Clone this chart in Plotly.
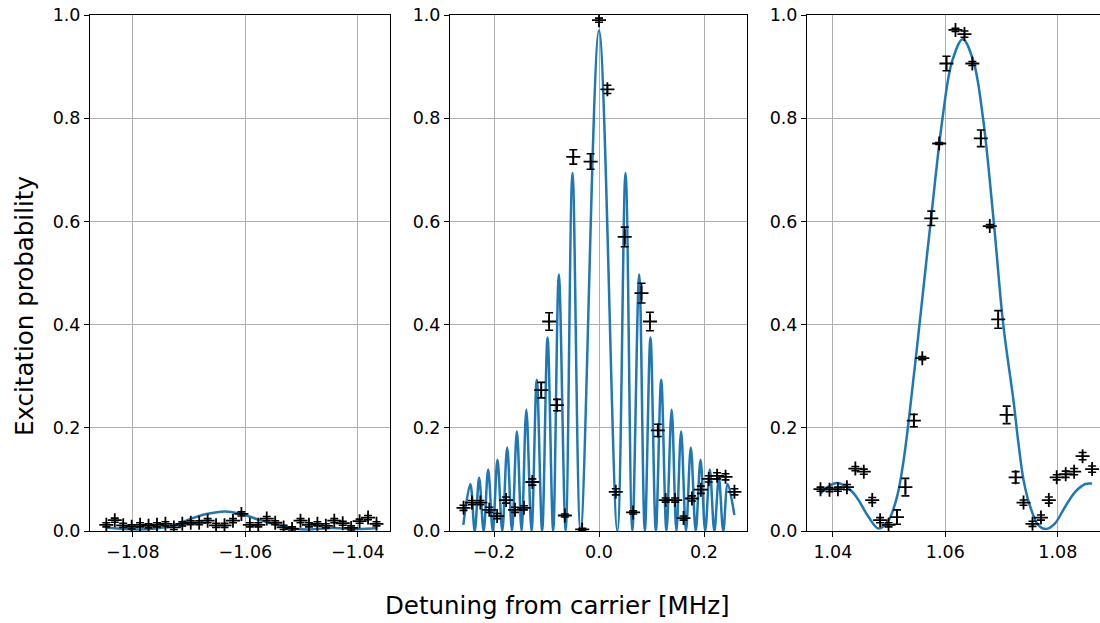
import plotly.graph_objects as go

# ---------------- measured excitation probabilities ----------------
# Red sideband
p1_x = [-1.0847, -1.0832, -1.0817, -1.0802, -1.0787, -1.0772, -1.0757, -1.0742,
        -1.0727, -1.0712, -1.0697, -1.0682, -1.0667, -1.0652, -1.0637, -1.0622,
        -1.0607, -1.0592, -1.0577, -1.0562, -1.0547, -1.0532, -1.0517, -1.0502,
        -1.0487, -1.0472, -1.0457, -1.0442, -1.0427, -1.0412, -1.0397, -1.0382,
        -1.0367]
p1_y = [0.012, 0.021, 0.011, 0.008, 0.012, 0.010, 0.012, 0.014, 0.007, 0.014,
        0.016, 0.016, 0.020, 0.011, 0.011, 0.020, 0.033, 0.012, 0.012, 0.024,
        0.016, 0.007, 0.004, 0.020, 0.012, 0.014, 0.010, 0.020, 0.015, 0.006,
        0.019, 0.026, 0.014]
p1_err = [0.004] * len(p1_x)

# Carrier
p2_x = [-0.258, -0.242, -0.226, -0.209, -0.194, -0.177, -0.160, -0.143, -0.127,
        -0.110, -0.095, -0.080, -0.065, -0.049, -0.032, -0.016, 0.0, 0.016,
        0.032, 0.049, 0.065, 0.081, 0.097, 0.112, 0.127, 0.145, 0.161, 0.177,
        0.194, 0.209, 0.225, 0.241, 0.258]
p2_y = [0.045, 0.055, 0.055, 0.041, 0.029, 0.060, 0.041, 0.045, 0.095, 0.273,
        0.406, 0.244, 0.030, 0.725, 0.003, 0.716, 0.990, 0.856, 0.076, 0.570,
        0.036, 0.461, 0.406, 0.195, 0.060, 0.060, 0.025, 0.063, 0.080, 0.101,
        0.107, 0.105, 0.076]
p2_err = [0.005, 0.004, 0.004, 0.005, 0.005, 0.006, 0.005, 0.004, 0.006, 0.015,
          0.017, 0.011, 0.003, 0.014, 0.002, 0.015, 0.004, 0.008, 0.006, 0.019,
          0.003, 0.019, 0.018, 0.012, 0.004, 0.004, 0.004, 0.005, 0.007, 0.006,
          0.006, 0.006, 0.006]

# Blue sideband
p3_x = [1.0378, 1.0394, 1.0409, 1.0425, 1.0440, 1.0455, 1.0470, 1.0484, 1.0499,
        1.0514, 1.0529, 1.0544, 1.0559, 1.0575, 1.0589, 1.0602, 1.0618, 1.0634,
        1.0648, 1.0663, 1.0679, 1.0694, 1.0709, 1.0725, 1.0739, 1.0755, 1.0770,
        1.0784, 1.0798, 1.0814, 1.0829, 1.0844, 1.0861]
p3_y = [0.081, 0.080, 0.081, 0.085, 0.121, 0.115, 0.060, 0.021, 0.012, 0.027,
        0.085, 0.214, 0.335, 0.606, 0.751, 0.906, 0.971, 0.963, 0.906, 0.761,
        0.591, 0.410, 0.225, 0.104, 0.055, 0.014, 0.026, 0.060, 0.104, 0.110,
        0.115, 0.145, 0.120]
p3_err = [0.004, 0.004, 0.004, 0.005, 0.004, 0.005, 0.005, 0.005, 0.004, 0.014,
          0.017, 0.012, 0.003, 0.014, 0.002, 0.014, 0.003, 0.006, 0.004, 0.016,
          0.003, 0.017, 0.017, 0.011, 0.005, 0.005, 0.005, 0.006, 0.005, 0.006,
          0.006, 0.007, 0.006]

# ---------------- fitted line shapes (vertices) ----------------
fit1_x = [-1.0848, -1.0815, -1.0790, -1.0760, -1.0728, -1.0699, -1.0669, -1.0636,
          -1.0604, -1.0574, -1.0545, -1.0515, -1.0490, -1.0445, -1.0400, -1.0365]
fit1_y = [0.007, 0.004, 0.003, 0.005, 0.010, 0.023, 0.033, 0.038,
          0.032, 0.021, 0.012, 0.005, 0.003, 0.006, 0.004, 0.006]

fit2_x = [-0.2584, -0.2451, -0.2367, -0.2283, -0.2197, -0.2111, -0.2023, -0.1934,
          -0.1842, -0.1749, -0.1657, -0.1564, -0.1474, -0.1384, -0.1285, -0.1185,
          -0.1083, -0.0980, -0.0873, -0.0765, -0.0635, -0.0505, -0.0350, 0.0,
          0.0350, 0.0505, 0.0635, 0.0765, 0.0873, 0.0980, 0.1083, 0.1185,
          0.1285, 0.1384, 0.1474, 0.1564, 0.1657, 0.1749, 0.1842, 0.1934,
          0.2023, 0.2111, 0.2197, 0.2283, 0.2367, 0.2451, 0.2578]
fit2_y = [0.012, 0.091, 0.0, 0.103, 0.0, 0.119, 0.0, 0.138,
          0.0, 0.162, 0.0, 0.193, 0.0, 0.235, 0.0, 0.293,
          0.0, 0.375, 0.0, 0.497, 0.0, 0.694, 0.0, 0.970,
          0.0, 0.694, 0.0, 0.497, 0.0, 0.375, 0.0, 0.293,
          0.0, 0.235, 0.0, 0.193, 0.0, 0.162, 0.0, 0.138,
          0.0, 0.119, 0.0, 0.103, 0.0, 0.091, 0.031]

fit3_x = [1.0377, 1.0392, 1.0407, 1.0425, 1.0442, 1.0463, 1.0481, 1.0499, 1.0514,
          1.0525, 1.0535, 1.0554, 1.0574, 1.0595, 1.0612, 1.0631, 1.0650, 1.0667,
          1.0686, 1.0703, 1.0721, 1.0730, 1.0739, 1.0751, 1.0765, 1.0779, 1.0795,
          1.0813, 1.0831, 1.0849, 1.0861]
fit3_y = [0.072, 0.086, 0.093, 0.085, 0.066, 0.028, 0.005, 0.021, 0.066,
          0.131, 0.215, 0.400, 0.600, 0.800, 0.910, 0.953, 0.910, 0.800,
          0.600, 0.400, 0.254, 0.170, 0.099, 0.047, 0.012, 0.004, 0.015,
          0.047, 0.076, 0.091, 0.092]

# ---------------- axis ticks ----------------
x1_ticks = [-1.08, -1.06, -1.04]
x1_labels = ["\u22121.08", "\u22121.06", "\u22121.04"]
x2_ticks = [-0.2, 0.0, 0.2]
x2_labels = ["\u22120.2", "0.0", "0.2"]
x3_ticks = [1.04, 1.06, 1.08]
x3_labels = ["1.04", "1.06", "1.08"]
y_ticks = [0.0, 0.2, 0.4, 0.6, 0.8, 1.0]
y_labels = ["0.0", "0.2", "0.4", "0.6", "0.8", "1.0"]

W, H = 1100, 623
BLUE = "#1f77b4"
FONT = "DejaVu Sans"

panels = [
    (p1_x, p1_y, p1_err, fit1_x, fit1_y, x1_ticks, x1_labels, [90, 390], [-1.0876, -1.0343]),
    (p2_x, p2_y, p2_err, fit2_x, fit2_y, x2_ticks, x2_labels, [450, 747], [-0.2838, 0.2819]),
    (p3_x, p3_y, p3_err, fit3_x, fit3_y, x3_ticks, x3_labels, [807, 1100], [1.0354, 1.0875]),
]

y_dom = [(H - 531) / H, (H - 15) / H]

fig = go.Figure()
layout = dict(
    width=W, height=H,
    margin=dict(l=0, r=0, t=0, b=0),
    paper_bgcolor="white", plot_bgcolor="white",
    showlegend=False,
    font=dict(family=FONT, color="black"),
)

axis_common = dict(
    showgrid=True, gridcolor="#b0b0b0", gridwidth=1,
    showline=True, linecolor="black", linewidth=1, mirror=True,
    ticks="outside", ticklen=5, tickwidth=1, tickcolor="black",
    tickfont=dict(family=FONT, size=17.5, color="black"),
    zeroline=False, automargin=False,
)

for i, (dx, dy, de, fx, fy, xt, xl, px, xr) in enumerate(panels, start=1):
    sfx = "" if i == 1 else str(i)
    fig.add_trace(go.Scatter(
        x=fx, y=fy, mode="lines",
        line=dict(color=BLUE, width=2.5, shape="spline"),
        xaxis="x" + sfx, yaxis="y" + sfx, hoverinfo="skip",
    ))
    fig.add_trace(go.Scatter(
        x=dx, y=dy, mode="markers",
        marker=dict(symbol="cross-thin", size=10, color="black",
                    line=dict(color="black", width=1.8)),
        error_y=dict(type="data", array=de, visible=True, color="black",
                     thickness=1.6, width=4),
        xaxis="x" + sfx, yaxis="y" + sfx,
    ))
    layout["xaxis" + sfx] = dict(
        axis_common, domain=[px[0] / W, min(px[1] / W, 1.0)], range=xr,
        tickvals=xt, ticktext=xl, anchor="y" + sfx,
    )
    layout["yaxis" + sfx] = dict(
        axis_common, domain=y_dom, range=[0, 1],
        tickvals=y_ticks, ticktext=y_labels, anchor="x" + sfx,
    )

layout["annotations"] = [
    dict(text="Excitation probability", x=24 / W, y=(H - 306) / H,
         xref="paper", yref="paper", showarrow=False, textangle=-90,
         font=dict(family=FONT, size=24.5, color="black"),
         xanchor="center", yanchor="middle"),
    dict(text="Detuning from carrier [MHz]", x=557 / W, y=(H - 605) / H,
         xref="paper", yref="paper", showarrow=False,
         font=dict(family=FONT, size=24.5, color="black"),
         xanchor="center", yanchor="middle"),
]

fig.update_layout(**layout)
fig.write_html("out.html")
